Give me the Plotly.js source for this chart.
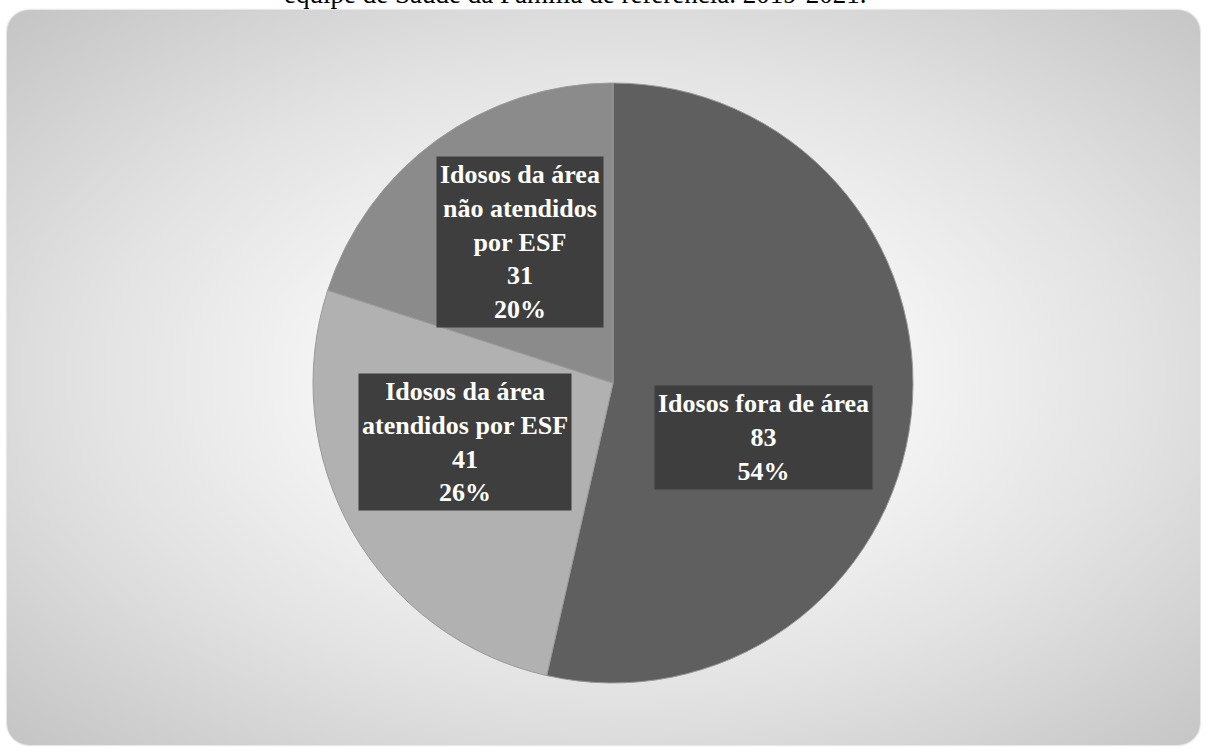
<!DOCTYPE html>
<html>
<head>
<meta charset="utf-8">
<script src="https://cdn.plot.ly/plotly-3.0.1.min.js"></script>
<style>
  html, body { margin: 0; padding: 0; background: #ffffff; }
  #wrap { position: relative; width: 1208px; height: 751px; overflow: hidden; }
  #card {
    position: absolute; left: 7px; top: 10px; width: 1193px; height: 735px;
    border-radius: 22px;
    background: radial-gradient(ellipse farthest-corner at 51% 50%, #ffffff 0%, #f6f6f6 30%, #e2e2e2 62%, #c4c4c4 100%);
    box-shadow: 0 0 2px rgba(0,0,0,0.35);
  }
  #chart { position: absolute; left: 0; top: 0; width: 1208px; height: 751px; }
</style>
</head>
<body>
<div id="wrap">
  <div id="card"></div>
  <div id="chart"></div>
</div>
<script>
// ---- data ----
const categories = ["Idosos fora de área", "Idosos da área atendidos por ESF", "Idosos da área não atendidos por ESF"];
const displayLabels = ["Idosos fora de área", "Idosos da área<br>atendidos por ESF", "Idosos da área<br>não atendidos<br>por ESF"];
const values = [83, 41, 31];
const sliceColors = ["#5f5f5f", "#b1b1b1", "#8b8b8b"];
const titleText = "equipe de Saúde da Família de referência. 2019-2021.";

// ---- layout helpers ----
const W = 1208, H = 751;
const px = x => x / W;
const py = y => 1 - y / H;

const total = values.reduce((a, b) => a + b, 0);
const pct = values.map(v => Math.round(100 * v / total) + "%");

// label box centres (pixels)
const labelPos = [[763, 437], [465, 442], [520, 242]];

const annotations = values.map((v, i) => ({
  xref: "paper", yref: "paper",
  x: px(labelPos[i][0]), y: py(labelPos[i][1]),
  xanchor: "center", yanchor: "middle",
  text: displayLabels[i] + "<br>" + v + "<br>" + pct[i],
  showarrow: false,
  align: "center",
  font: { family: "Liberation Serif, Times New Roman, serif", size: 26, color: "#ffffff", weight: "bold" },
  bgcolor: "#3e3e3e",
  borderpad: 3
}));

annotations.push({
  xref: "paper", yref: "paper",
  x: px(575), y: py(10),
  xanchor: "center", yanchor: "bottom",
  text: titleText,
  showarrow: false,
  font: { family: "Liberation Serif, Times New Roman, serif", size: 27, color: "#000000" },
  borderpad: 0
});

const trace = {
  type: "pie",
  labels: categories,
  values: values,
  sort: false,
  direction: "clockwise",
  rotation: 0,
  textinfo: "none",
  hoverinfo: "none",
  marker: { colors: sliceColors, line: { color: "#9a9a9a", width: 1 } },
  domain: { x: [px(313), px(913)], y: [py(683), py(83)] },
  showlegend: false
};

const layout = {
  width: W, height: H,
  margin: { l: 0, r: 0, t: 0, b: 0 },
  paper_bgcolor: "rgba(0,0,0,0)",
  plot_bgcolor: "rgba(0,0,0,0)",
  showlegend: false,
  annotations: annotations
};

Plotly.newPlot("chart", [trace], layout, { displayModeBar: false, staticPlot: true });
</script>
</body>
</html>
